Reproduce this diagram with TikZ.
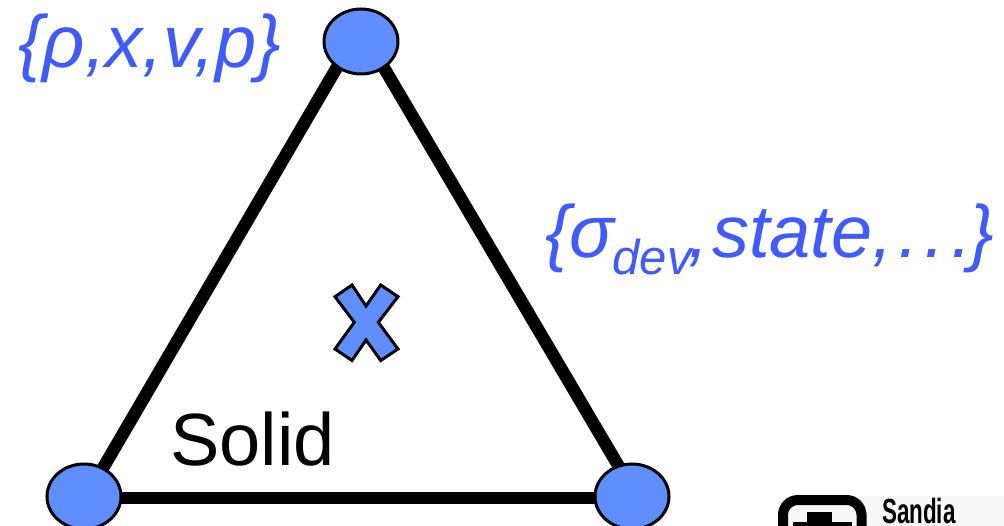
\documentclass[tikz,border=0pt]{standalone}
\usepackage{fontspec}
\setmainfont{Liberation Sans}
\usetikzlibrary{shapes.geometric,backgrounds}
\definecolor{vertexblue}{HTML}{5F8FFF}
\definecolor{labelblue}{HTML}{3F5BFF}
\definecolor{logogray}{HTML}{F8F8F8}
\tikzset{
  vertex/.style={ellipse,draw=black,line width=3pt,fill=vertexblue,minimum width=74pt,minimum height=65pt,inner sep=0pt},
  meshedge/.style={draw=black,line width=12.5pt},
  baseedge/.style={draw=black,line width=11.5pt},
  varlabel/.style={anchor=base west,inner sep=0pt,text=labelblue,font=\fontsize{74}{74}\selectfont\itshape},
  solidlabel/.style={anchor=base west,inner sep=0pt,text=black,font=\fontsize{74}{74}\selectfont},
  logotext/.style={anchor=base west,inner sep=0pt,text=black,font=\fontsize{35}{35}\selectfont\bfseries,xscale=0.64}
}
\begin{document}
\begin{tikzpicture}[x=1pt,y=-1pt]
\useasboundingbox (0,0) rectangle (1004,526);
\node[vertex] (top) at (361,41.5) {};
\node[vertex] (left) at (84,496.5) {};
\node[vertex] (right) at (632,496.5) {};
\begin{scope}[on background layer]
  \draw[meshedge] ([xshift=-0.8pt,yshift=14pt]top.center) -- ([xshift=1.5pt,yshift=-1.5pt]left.center);
  \draw[meshedge] ([xshift=-0.8pt,yshift=14pt]top.center) -- ([xshift=5.4pt,yshift=-1.5pt]right.center);
  \draw[baseedge] ([yshift=-1.5pt]left.center) -- ([yshift=-1.5pt]right.center);
\end{scope}
\draw[line width=3pt,fill=vertexblue,line join=miter]
  (352,285) -- (366,306) -- (380.7,285) -- (398,296.7) -- (378.3,322.3)
  -- (398,349) -- (380.7,360.5) -- (366,340) -- (352,360.5) -- (335,349)
  -- (354.3,322.3) -- (335,296.7) -- cycle;
\node[varlabel] (nodevars) at (18,68) {\{ρ,x,v,p\}};
\node[varlabel] (zonevars) at (545,258) {\{σ\kern-2pt\raisebox{-17pt}{\fontsize{49}{49}\selectfont dev}\kern-3pt,\kern3pt state,\kern5pt.\kern6pt.\kern6pt.\kern-2pt\}};
\node[solidlabel] (solid) at (170,465) {Solid};
% logo
\fill[logogray] (778,496) rectangle (1004,526);
\draw[black,line width=10pt,rounded corners=15pt] (783,545) -- (783,500) -- (861.5,500) -- (861.5,545);
\fill[black] (807,512) rectangle (832,526);
\fill[black] (793,522) rectangle (852,526);
\node[logotext] (sandia) at (882,523.5) {Sandia};
\end{tikzpicture}
\end{document}
